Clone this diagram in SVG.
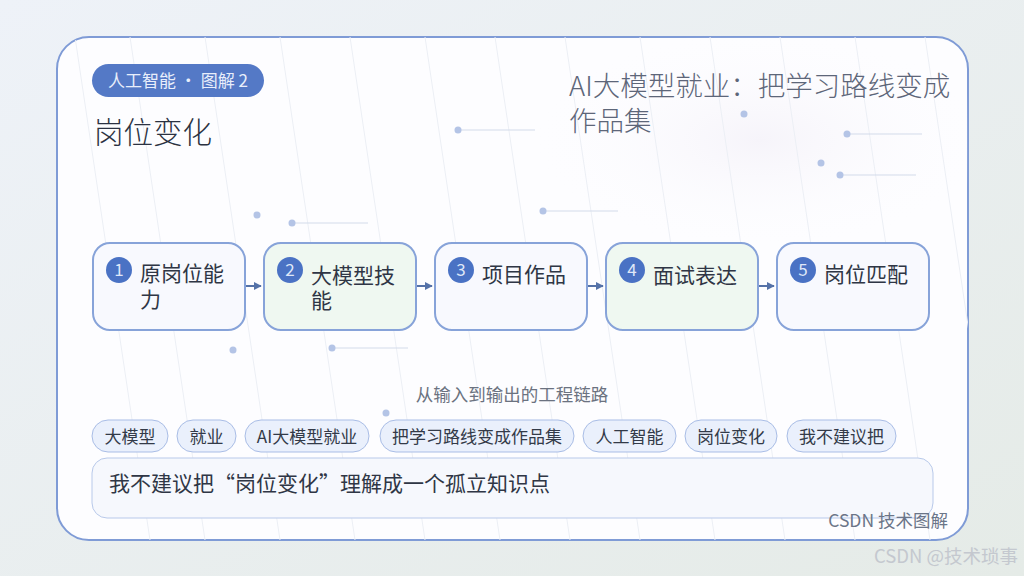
<svg xmlns="http://www.w3.org/2000/svg" width="1024" height="576" viewBox="0 0 1024 576">
<defs>
<linearGradient id="bg" x1="0" y1="0" x2="1" y2="1">
<stop offset="0" stop-color="#eef2f8"/>
<stop offset="1" stop-color="#e5ebe7"/>
</linearGradient>
<radialGradient id="glow" cx="0.5" cy="0.5" r="0.5">
<stop offset="0" stop-color="#f6f4fa"/>
<stop offset="1" stop-color="#fdfdff" stop-opacity="0"/>
</radialGradient>
<marker id="arr" viewBox="0 0 10 10" refX="9" refY="5" markerWidth="8" markerHeight="8" orient="auto" markerUnits="userSpaceOnUse">
<path d="M0,0 L10,5 L0,10 z" fill="#5572a8"/>
</marker>
<clipPath id="cardclip"><rect x="57" y="37" width="911" height="503" rx="32"/></clipPath>
</defs>
<style>
text{font-family:"Noto Sans CJK SC","Noto Sans",sans-serif}
.node{stroke:#87a3d9;stroke-width:2}
.odd{fill:#f8f9fe}
.even{fill:#eff8f1}
.num{fill:#4a72c4}
.numt{fill:#dfe7f8;font-size:17px;text-anchor:middle}
.lab{fill:#2f3645;font-size:21px}
.tag{fill:#eaf0fc;stroke:#a9bde6;stroke-width:1}
.tagt{fill:#333a48;font-size:17px;text-anchor:middle}
.dot{fill:#b4c4e6}
.dl{stroke:#d3dbea;stroke-width:1}
.diag{stroke:#eceff5;stroke-width:1}
</style>
<rect width="1024" height="576" fill="url(#bg)"/>
<rect x="57" y="37" width="911" height="503" rx="32" fill="#fdfdff" stroke="#7f9bd6" stroke-width="2"/>
<g clip-path="url(#cardclip)">
<ellipse cx="760" cy="140" rx="230" ry="110" fill="url(#glow)"/>
<g class="diag">
<line x1="75" y1="37" x2="150" y2="540"/>
<line x1="130" y1="37" x2="205" y2="540"/>
<line x1="205" y1="37" x2="280" y2="540"/>
<line x1="280" y1="37" x2="355" y2="540"/>
<line x1="350" y1="37" x2="425" y2="540"/>
<line x1="425" y1="37" x2="500" y2="540"/>
<line x1="495" y1="37" x2="570" y2="540"/>
<line x1="565" y1="37" x2="640" y2="540"/>
<line x1="640" y1="37" x2="715" y2="540"/>
<line x1="710" y1="37" x2="785" y2="540"/>
<line x1="780" y1="37" x2="855" y2="540"/>
<line x1="855" y1="37" x2="930" y2="540"/>
<line x1="925" y1="37" x2="1000" y2="540"/>
</g>
</g>
<g id="decor">
<line class="dl" x1="458" y1="130" x2="535" y2="130"/><circle class="dot" cx="458" cy="130" r="3.5"/>
<circle class="dot" cx="744" cy="114" r="3.5"/>
<line class="dl" x1="847" y1="134" x2="922" y2="134"/><circle class="dot" cx="847" cy="134" r="3.5"/>
<circle class="dot" cx="821" cy="163" r="3.5"/>
<line class="dl" x1="840" y1="175" x2="916" y2="175"/><circle class="dot" cx="840" cy="175" r="3.5"/>
<circle class="dot" cx="257" cy="215" r="3.5"/>
<line class="dl" x1="292" y1="223" x2="368" y2="223"/><circle class="dot" cx="292" cy="223" r="3.5"/>
<line class="dl" x1="543" y1="211" x2="618" y2="211"/><circle class="dot" cx="543" cy="211" r="3.5"/>
<circle class="dot" cx="233" cy="350" r="3.5"/>
<line class="dl" x1="332" y1="348" x2="408" y2="348"/><circle class="dot" cx="332" cy="348" r="3.5"/>
<circle class="dot" cx="386" cy="413" r="3.5"/>
</g>
<g id="badge">
<rect x="92" y="64" width="172" height="33" rx="16.5" fill="#5479c6"/>
<text x="178" y="87" font-size="17" fill="#e8eefb" text-anchor="middle">人工智能 · 图解 2</text>
</g>
<text id="title" x="94" y="143" font-size="29.5" fill="#2b3242" font-weight="300">岗位变化</text>
<g id="headline" font-size="27.5" fill="#5d6679" font-weight="300">
<text x="569" y="96">AI大模型就业：把学习路线变成</text>
<text x="569" y="131">作品集</text>
</g>
<g id="connectors">
<line x1="246" y1="286" x2="261" y2="286" stroke="#5572a8" stroke-width="2" marker-end="url(#arr)"/>
<line x1="417" y1="286" x2="432" y2="286" stroke="#5572a8" stroke-width="2" marker-end="url(#arr)"/>
<line x1="588" y1="286" x2="603" y2="286" stroke="#5572a8" stroke-width="2" marker-end="url(#arr)"/>
<line x1="759" y1="286" x2="774" y2="286" stroke="#5572a8" stroke-width="2" marker-end="url(#arr)"/>
</g>
<g id="n1">
<rect class="node odd" x="93" y="243" width="152" height="87" rx="17"/>
<circle class="num" cx="119" cy="270" r="13"/>
<text class="numt" x="119" y="276">1</text>
<text class="lab" x="140" y="281">原岗位能</text>
<text class="lab" x="140" y="307">力</text>
</g>
<g id="n2">
<rect class="node even" x="264" y="243" width="152" height="87" rx="17"/>
<circle class="num" cx="290" cy="270" r="13"/>
<text class="numt" x="290" y="276">2</text>
<text class="lab" x="311" y="283">大模型技</text>
<text class="lab" x="311" y="308">能</text>
</g>
<g id="n3">
<rect class="node odd" x="435" y="243" width="152" height="87" rx="17"/>
<circle class="num" cx="461" cy="270" r="13"/>
<text class="numt" x="461" y="276">3</text>
<text class="lab" x="482" y="282">项目作品</text>
</g>
<g id="n4">
<rect class="node even" x="606" y="243" width="152" height="87" rx="17"/>
<circle class="num" cx="632" cy="270" r="13"/>
<text class="numt" x="632" y="276">4</text>
<text class="lab" x="653" y="283">面试表达</text>
</g>
<g id="n5">
<rect class="node odd" x="777" y="243" width="152" height="87" rx="17"/>
<circle class="num" cx="803" cy="270" r="13"/>
<text class="numt" x="803" y="276">5</text>
<text class="lab" x="824" y="282">岗位匹配</text>
</g>
<text id="subtitle" x="512" y="401" font-size="17.5" fill="#6b7280" text-anchor="middle">从输入到输出的工程链路</text>
<g id="tags">
<rect class="tag" x="92" y="420" width="76" height="32" rx="16"/><text class="tagt" x="130" y="443">大模型</text>
<rect class="tag" x="177" y="420" width="59" height="32" rx="16"/><text class="tagt" x="206.5" y="443">就业</text>
<rect class="tag" x="245" y="420" width="124" height="32" rx="16"/><text class="tagt" x="307" y="443">AI大模型就业</text>
<rect class="tag" x="380" y="420" width="194" height="32" rx="16"/><text class="tagt" x="477" y="443">把学习路线变成作品集</text>
<rect class="tag" x="583" y="420" width="93" height="32" rx="16"/><text class="tagt" x="629.5" y="443">人工智能</text>
<rect class="tag" x="685" y="420" width="92" height="32" rx="16"/><text class="tagt" x="731" y="443">岗位变化</text>
<rect class="tag" x="787" y="420" width="109" height="32" rx="16"/><text class="tagt" x="841.5" y="443">我不建议把</text>
</g>
<g id="note">
<rect x="92" y="458" width="841" height="60" rx="15" fill="#f6f8fd" stroke="#b8c9ea" stroke-width="1"/>
<text x="109" y="491" font-size="21" fill="#2f3645">我不建议把“岗位变化”理解成一个孤立知识点</text>
</g>
<text id="footer" x="948" y="527" font-size="17.5" fill="#6b7588" text-anchor="end">CSDN 技术图解</text>
<text id="watermark" x="1018" y="563" font-size="18.5" fill="#c4c8cf" text-anchor="end">CSDN @技术琐事</text>
</svg>
